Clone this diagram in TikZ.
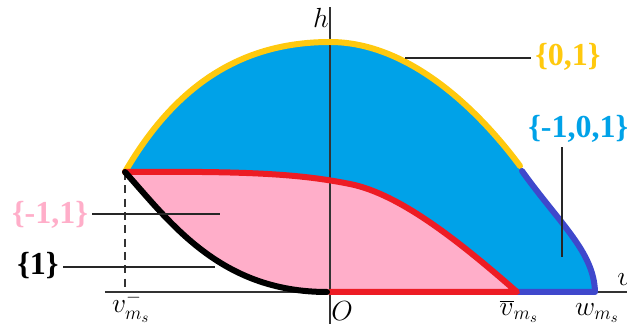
\documentclass[tikz,border=0pt]{standalone}
\usepackage{fontspec}
\newfontfamily\braceserif{Liberation Serif}
\usetikzlibrary{positioning}
\definecolor{capyellow}{HTML}{FFC90E}
\definecolor{skyfill}{HTML}{00A2E8}
\definecolor{pinkfill}{HTML}{FFAEC9}
\definecolor{capred}{HTML}{ED1C24}
\definecolor{capindigo}{HTML}{3F48CC}

\begin{document}
\begin{tikzpicture}[x=0.75pt, y=0.75pt, line cap=round, line join=round,
  bound/.style={line width=4.5pt},
  axis/.style={draw=black!80, line width=0.8pt, line cap=butt},
  leader/.style={draw=black!85, line width=0.8pt, line cap=butt},
  setlabel/.style={font=\braceserif\bfseries\fontsize{24}{28}\selectfont, inner sep=0pt},
  axlabel/.style={font=\fontsize{21}{25}\selectfont, inner sep=0pt, anchor=base}]
  \useasboundingbox (-330,-32) rectangle (297,292);
  \coordinate (O) at (0,0);
  \coordinate (L) at (-205,120);
  \coordinate (T) at (0,250);
  \coordinate (J) at (190,126);
  \coordinate (W) at (265,0);
  \coordinate (Vb) at (187,0);
  \coordinate (Vm) at (-205,0);
  \coordinate (R) at (20,108);

  % regions
  \fill[skyfill] (L) .. controls (-150,215) and (-80,250) .. (T)
    .. controls (80,250) and (150,180) .. (J)
    .. controls (230,68) and (264,40) .. (W) -- (O)
    .. controls (-110,0) and (-160,70) .. (L) -- cycle;
  \fill[pinkfill] (L) .. controls (-80,121) and (-30,118) .. (R)
    .. controls (70,98) and (130,50) .. (Vb) -- (O)
    .. controls (-110,0) and (-160,70) .. (L) -- cycle;

  % axes
  \draw[axis] (-225,0) -- (300,0);
  \draw[axis] (0,-32) -- (0,285);
  \draw[axis, dash pattern=on 6pt off 4pt] (L) -- (Vm);

  % boundaries
  \draw[bound, capyellow] (L) .. controls (-150,215) and (-80,250) .. (T)
    .. controls (80,250) and (150,180) .. (J);
  \draw[bound, capindigo] (192,121) .. controls (230,68) and (264,40) .. (W) -- (Vb);
  \draw[bound, capred] (L) .. controls (-80,121) and (-30,118) .. (R)
    .. controls (70,98) and (130,50) .. (Vb) -- (O);
  \draw[bound, black] (L) .. controls (-160,70) and (-110,0) .. (-3,0);

  % axis labels
  \node[axlabel] (hlab) at (-9,264) {$h$};
  \node[axlabel, anchor=base west] (vlab) at (287,7) {$v$};
  \node[axlabel] (olab) at (12,-28) {$O$};
  \node[axlabel] (vmlab) at (-199,-21) {$v_{m_s}^{-}$};
  \node[axlabel] (vblab) at (189,-23) {$\overline{v}_{m_s}$};
  \node[axlabel] (wlab) at (267,-23) {$w_{m_s}$};

  % set labels
  \coordinate (c01) at (75,234);
  \coordinate (c101) at (232,35);
  \coordinate (c11) at (-110,78);
  \coordinate (c1) at (-115,25);
  \node[setlabel, text=capyellow, anchor=west] (s01) at (205,235) {\{0,1\}};
  \node[setlabel, text=skyfill, anchor=west] (s101) at (198,163) {\{-1,0,1\}};
  \node[setlabel, text=pinkfill] (s11) at (-280,77) {\{-1,1\}};
  \node[setlabel, text=black] (s1) at (-292,26) {\{1\}};
  \draw[leader] (c01) -- ([xshift=-3pt]s01.west |- c01);
  \draw[leader] (c101) -- ([yshift=-3pt]c101 |- s101.south);
  \draw[leader] (c11) -- ([xshift=3pt]s11.east |- c11);
  \draw[leader] (c1) -- ([xshift=3pt]s1.east |- c1);
\end{tikzpicture}
\end{document}
